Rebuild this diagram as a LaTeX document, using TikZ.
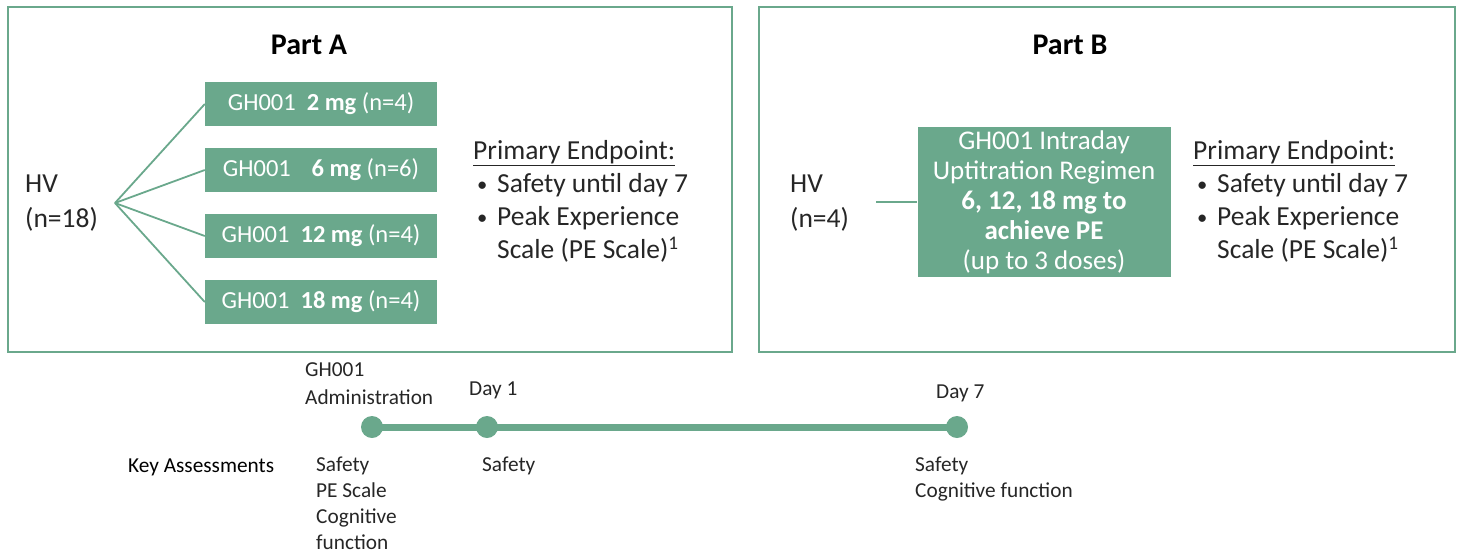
\documentclass[tikz,border=0pt]{standalone}
\usepackage{fontspec}
\setmainfont{Carlito}
\usetikzlibrary{positioning}
\definecolor{trialgreen}{RGB}{106,168,140}
\definecolor{inkgray}{RGB}{38,38,38}
\tikzset{
	partframe/.style={draw=trialgreen, line width=2pt},
	parttitle/.style={font=\fontsize{30}{36}\selectfont\bfseries, text=black},
	cohort/.style={anchor=west, align=left, inner sep=0pt, text=inkgray, font=\fontsize{27.5}{35}\selectfont},
	dosebox/.style={fill=trialgreen, text=white, minimum width=232pt, minimum height=44pt, inner sep=0pt, font=\fontsize{24.5}{28}\selectfont},
	regimenbox/.style={fill=trialgreen, text=white, minimum width=253pt, minimum height=150pt, inner sep=0pt, align=center, font=\fontsize{27}{30}\selectfont},
	branch/.style={draw=trialgreen, line width=1.8pt},
	endpoint/.style={anchor=north west, inner sep=0pt, text=inkgray, font=\fontsize{27.5}{33}\selectfont},
	dayline/.style={draw=trialgreen, line width=7pt},
	daydot/.style={circle, fill=trialgreen, minimum size=22pt, inner sep=0pt},
	daylabel/.style={anchor=west, align=left, inner sep=0pt, text=inkgray, font=\fontsize{21.3}{28}\selectfont},
	assess/.style={anchor=north west, align=left, inner sep=0pt, text=inkgray, font=\fontsize{21.3}{26}\selectfont}
}
\newcommand{\smallbullet}{\makebox[24pt][l]{\hspace{4pt}\raisebox{1pt}{\scalebox{0.75}{\textbullet}}}}
\newcommand{\primarylist}{%
	\begin{tabular}{@{}l@{}l@{}}
		\multicolumn{2}{@{}l}{\underline{Primary Endpoint:}}\\
		\smallbullet & Safety until day 7\\
		\smallbullet & Peak Experience\\
		& Scale (PE Scale)\textsuperscript{1}
	\end{tabular}}
\begin{document}
\begin{tikzpicture}[x=1pt,y=-1pt]
	\useasboundingbox (0,0) rectangle (1463,558);
	% the two study parts
	\draw[partframe] (8,7) rectangle (732,352);
	\draw[partframe] (759,7) rectangle (1455,352);
	\node[parttitle] (titleA) at (309,45) {Part A};
	\node[parttitle] (titleB) at (1070,45) {Part B};
	% Part A: cohort and dose groups
	\node[cohort] (hvA) at (25,203) {HV\\(n=18)};
	\coordinate (fanA) at (115,203);
	\node[dosebox] (dose2)  at (321,104) {GH001\hspace{0.45em}\textbf{2 mg} (n=4)};
	\node[dosebox] (dose6)  at (321,170) {GH001\hspace{0.85em}\textbf{6 mg} (n=6)};
	\node[dosebox] (dose12) at (321,236) {GH001\hspace{0.45em}\textbf{12 mg} (n=4)};
	\node[dosebox] (dose18) at (321,302) {GH001\hspace{0.45em}\textbf{18 mg} (n=4)};
	\foreach \d in {dose2,dose6,dose12,dose18}
		\draw[branch] (fanA) -- (\d.west);
	\node[endpoint] (endA) at (473,136) {\primarylist};
	% Part B: cohort and uptitration
	\node[cohort] (hvB) at (790,203) {HV\\(n=4)};
	\coordinate (fanB) at (876,202);
	\node[regimenbox] (regimen) at (1044,202) {GH001 Intraday\\Uptitration Regimen\\\textbf{6, 12, 18 mg to}\\\textbf{achieve PE}\\(up to 3 doses)};
	\draw[branch] (fanB) -- (fanB -| regimen.west);
	\node[endpoint] (endB) at (1193,136) {\primarylist};
	% timeline
	\node[daydot] (day0) at (372,427) {};
	\node[daydot] (day1) at (487,427) {};
	\node[daydot] (day7) at (957,427) {};
	\draw[dayline] (day0.center) -- (day1.center) -- (day7.center);
	\node[daylabel] (admin) at (305,384) {GH001\\Administration};
	\node[daylabel] (lab1) at (469,390) {Day 1};
	\node[daylabel] (lab7) at (936,393) {Day 7};
	% key assessments
	\node[daylabel, text=black] (keyA) at (128,467) {Key Assessments};
	\node[assess] (ass0) at (316,457) {Safety\\PE Scale\\Cognitive\\function};
	\node[assess] (ass1) at (482,457) {Safety};
	\node[assess] (ass7) at (915,457) {Safety\\Cognitive function};
\end{tikzpicture}
\end{document}
